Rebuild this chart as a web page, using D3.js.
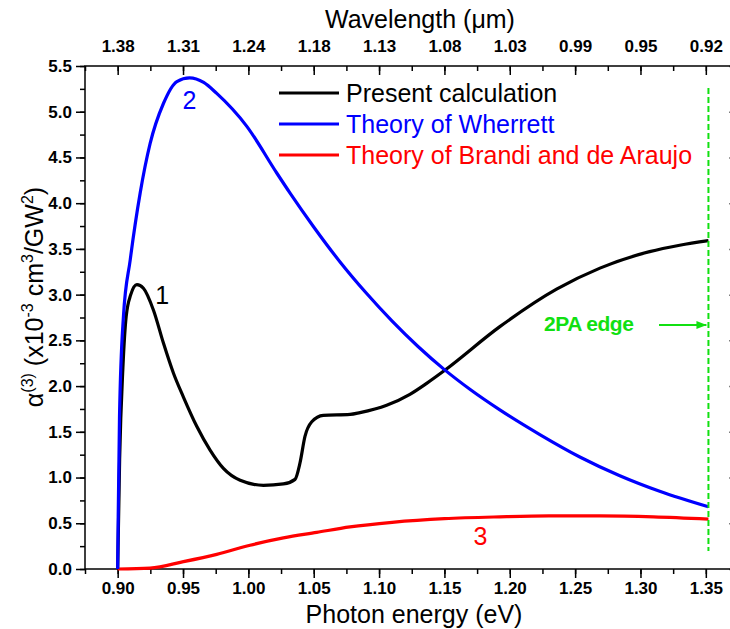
<!DOCTYPE html>
<html>
<head>
<meta charset="utf-8">
<script src="https://cdn.jsdelivr.net/npm/d3@7"></script>
<style>
body { margin: 0; background: #fff; }
text { font-family: "Liberation Sans", Arial, sans-serif; }
</style>
</head>
<body>
<script>
// ticks
const energyTicks = [0.90, 0.95, 1.00, 1.05, 1.10, 1.15, 1.20, 1.25, 1.30, 1.35];
const wavelengthLabels = ['1.38', '1.31', '1.24', '1.18', '1.13', '1.08', '1.03', '0.99', '0.95', '0.92'];
const alphaTicks = [0, 0.5, 1.0, 1.5, 2.0, 2.5, 3.0, 3.5, 4.0, 4.5, 5.0, 5.5];

// curve 1 - present calculation
const presentE = [0.900, 0.9015, 0.904, 0.9065, 0.910, 0.9147, 0.9197, 0.9274, 0.935, 0.9427, 0.9503, 0.9605,
    0.9707, 0.9809, 0.9937, 1.0115, 1.0268, 1.0357, 1.0395, 1.0433, 1.0485, 1.0573, 1.0778, 1.0854, 1.1058,
    1.1236, 1.1364, 1.150, 1.1924, 1.2358, 1.269, 1.307, 1.330, 1.352];
const presentA = [0, 1.2, 2.2, 2.76, 3.0, 3.11, 3.07, 2.83, 2.47, 2.14, 1.88, 1.56,
    1.30, 1.10, 0.97, 0.915, 0.93, 0.98, 1.16, 1.45, 1.61, 1.68, 1.69, 1.71, 1.79,
    1.91, 2.03, 2.17, 2.65, 3.06, 3.29, 3.47, 3.54, 3.59];

// curve 2 - Wherrett
const wherrettE = [0.900, 0.9004, 0.9014, 0.9044, 0.9096, 0.9172, 0.9248, 0.935, 0.9453, 0.955, 0.9658, 0.9758,
    0.9988, 1.0217, 1.0319, 1.05, 1.07, 1.09, 1.11, 1.13, 1.15, 1.17, 1.1924, 1.223, 1.2536, 1.2842, 1.3147, 1.352];
const wherrettA = [0, 0.57, 1.67, 2.76, 3.38, 4.11, 4.65, 5.09, 5.33, 5.37, 5.32, 5.20,
    4.84, 4.33, 4.11, 3.74, 3.36, 3.02, 2.71, 2.43, 2.18, 1.96, 1.74, 1.47, 1.225, 1.02, 0.85, 0.68];

// curve 3 - Brandi and de Araujo
const brandiE = [0.900, 0.9248, 0.9503, 0.9758, 1.0013, 1.0268, 1.0523, 1.0778, 1.11, 1.15, 1.1924, 1.23, 1.269, 1.31, 1.352];
const brandiA = [0, 0.01, 0.08, 0.16, 0.26, 0.34, 0.40, 0.46, 0.51, 0.55, 0.57, 0.58, 0.58, 0.57, 0.545];

const edgeE = 1.352;

const screenwidth = 730;
const screenheight = 629;
const mLeft = 85, mRight = 738.5, mTop = 66, mBottom = 569;

const svg = d3.select('body').append('svg')
    .attr('width', screenwidth)
    .attr('height', screenheight);

const x = d3.scaleLinear().domain([0.875, 1.375]).range([mLeft, mRight]);
const y = d3.scaleLinear().domain([0, 5.5]).range([mBottom, mTop]);

const minorE = d3.range(0, 21).map(i => 0.875 + i * 0.025);
const minorA = d3.range(0, 23).map(i => i * 0.25);

function styleAxis(g) {
    g.select('.domain').remove();
    g.selectAll('line').attr('stroke', '#000').attr('stroke-width', 1.5);
    g.selectAll('text').attr('fill', '#000').attr('font-size', 17).attr('font-weight', 'bold')
        .attr('font-family', '"Liberation Sans", Arial, sans-serif');
}

// bottom
svg.append('g').attr('transform', `translate(0,${mBottom})`)
    .call(d3.axisBottom(x).tickValues(minorE).tickSize(5).tickFormat(''))
    .call(styleAxis);
svg.append('g').attr('transform', `translate(0,${mBottom})`)
    .call(d3.axisBottom(x).tickValues(energyTicks).tickSize(9).tickPadding(4).tickFormat(d3.format('.2f')))
    .call(styleAxis);

// top (wavelength)
svg.append('g').attr('transform', `translate(0,${mTop})`)
    .call(d3.axisTop(x).tickValues(minorE).tickSize(-5).tickFormat(''))
    .call(styleAxis);
svg.append('g').attr('transform', `translate(0,${mTop})`)
    .call(d3.axisTop(x).tickValues(energyTicks).tickSize(-9).tickPadding(14)
        .tickFormat((d, i) => wavelengthLabels[i]))
    .call(styleAxis);

// left
svg.append('g').attr('transform', `translate(${mLeft},0)`)
    .call(d3.axisLeft(y).tickValues(minorA).tickSize(5).tickFormat(''))
    .call(styleAxis);
svg.append('g').attr('transform', `translate(${mLeft},0)`)
    .call(d3.axisLeft(y).tickValues(alphaTicks).tickSize(9).tickPadding(4).tickFormat(d3.format('.1f')))
    .call(styleAxis);

// right
svg.append('g').attr('transform', `translate(${mRight},0)`)
    .call(d3.axisRight(y).tickValues(minorA).tickSize(-5).tickFormat(''))
    .call(styleAxis);
svg.append('g').attr('transform', `translate(${mRight},0)`)
    .call(d3.axisRight(y).tickValues(alphaTicks).tickSize(-9).tickFormat(''))
    .call(styleAxis);

svg.append('rect')
    .attr('x', mLeft).attr('y', mTop)
    .attr('width', mRight - mLeft).attr('height', mBottom - mTop)
    .attr('fill', 'none').attr('stroke', '#000').attr('stroke-width', 1.5);

// curves
const line = d3.line()
    .x(d => x(d[0]))
    .y(d => y(d[1]))
    .curve(d3.curveMonotoneX);

const series = [
    {e: presentE, a: presentA, color: '#000000'},
    {e: brandiE, a: brandiA, color: '#ff0000'},
    {e: wherrettE, a: wherrettA, color: '#0000ff'}
];

svg.selectAll('path.curve')
    .data(series)
    .enter().append('path')
    .attr('class', 'curve')
    .attr('d', d => line(d.e.map((v, i) => [v, d.a[i]])))
    .attr('fill', 'none')
    .attr('stroke', d => d.color)
    .attr('stroke-width', 3.2)
    .attr('stroke-linejoin', 'round');

// 2PA edge
const green = '#11e011';
svg.append('line')
    .attr('x1', x(edgeE)).attr('x2', x(edgeE))
    .attr('y1', 88).attr('y2', 551)
    .attr('stroke', green).attr('stroke-width', 2)
    .attr('stroke-dasharray', '6,3');

svg.append('defs').append('marker')
    .attr('id', 'arrow')
    .attr('viewBox', '0 0 10 10')
    .attr('refX', 10).attr('refY', 5)
    .attr('markerWidth', 5).attr('markerHeight', 5)
    .attr('orient', 'auto')
    .append('path').attr('d', 'M0,1 L10,5 L0,9 Z').attr('fill', green);

svg.append('line')
    .attr('x1', 659).attr('x2', x(edgeE) - 2)
    .attr('y1', 325).attr('y2', 325)
    .attr('stroke', green).attr('stroke-width', 2)
    .attr('marker-end', 'url(#arrow)');

svg.append('text')
    .attr('x', 544).attr('y', 331)
    .attr('fill', green)
    .attr('font-size', 21).attr('font-weight', 'bold')
    .attr('letter-spacing', -0.5)
    .text('2PA edge');

// curve numbers
const curveLabels = [
    {t: '1', e: 0.934, a: 2.9, color: '#000'},
    {t: '2', e: 0.955, a: 5.03, color: '#0000ff'},
    {t: '3', e: 1.1775, a: 0.26, color: '#ff0000'}
];
svg.selectAll('text.num')
    .data(curveLabels)
    .enter().append('text')
    .attr('class', 'num')
    .attr('x', d => x(d.e)).attr('y', d => y(d.a))
    .attr('text-anchor', 'middle')
    .attr('font-size', 25)
    .attr('fill', d => d.color)
    .text(d => d.t);

// legend
const legendNames = ['Present calculation', 'Theory of Wherrett', 'Theory of Brandi and de Araujo'];
const legendColors = ['#000000', '#0000ff', '#ff0000'];
const leg = svg.selectAll('g.leg')
    .data(legendNames)
    .enter().append('g')
    .attr('class', 'leg')
    .attr('transform', (d, i) => `translate(279,${93 + i * 31})`);
leg.append('line')
    .attr('x1', 0).attr('x2', 60)
    .attr('stroke', (d, i) => legendColors[i])
    .attr('stroke-width', 3);
leg.append('text')
    .attr('x', 67).attr('y', 9)
    .attr('font-size', 25)
    .attr('fill', (d, i) => legendColors[i])
    .text(d => d);

// axis titles
svg.append('text')
    .attr('x', 420).attr('y', 28)
    .attr('text-anchor', 'middle')
    .attr('font-size', 25)
    .text('Wavelength (\u03bcm)');

svg.append('text')
    .attr('x', 414).attr('y', 623)
    .attr('text-anchor', 'middle')
    .attr('font-size', 25)
    .text('Photon energy (eV)');

const yTitle = svg.append('text')
    .attr('transform', 'translate(43,297) rotate(-90)')
    .attr('text-anchor', 'middle')
    .attr('font-size', 25);
const parts = [
    ['\u03b1', 0], ['(3)', 1], [' (x10', 0], ['-3', 1], [' cm', 0], ['3', 1], ['/GW', 0], ['2', 1], [')', 0]
];
let prevSup = 0;
parts.forEach(p => {
    const shift = p[1] ? -10 : 0;
    yTitle.append('tspan')
        .attr('dy', shift - prevSup)
        .attr('font-size', p[1] ? 16 : 25)
        .text(p[0]);
    prevSup = shift;
});
</script>
</body>
</html>
